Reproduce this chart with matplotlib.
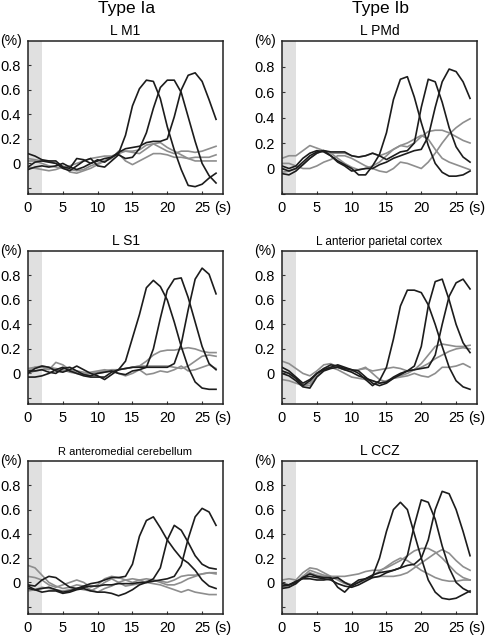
import numpy as np
import matplotlib.pyplot as plt
from matplotlib.patches import Rectangle

plt.rcParams['font.family'] = ['Liberation Sans', 'DejaVu Sans']

# time axis (s)
t = np.arange(28)

# L M1
m1_black = [
    [0.08, 0.06, 0.03, 0.02, 0.02, -0.03, -0.04, 0.04, 0.03, 0.0, 0.02, 0.04, 0.05, 0.08,
     0.23, 0.47, 0.61, 0.68, 0.67, 0.53, 0.30, 0.11, -0.05, -0.18, -0.19, -0.17, -0.12, -0.08],
    [-0.03, 0.01, 0.02, 0.01, 0.0, -0.04, -0.06, -0.02, 0.02, 0.04, -0.02, -0.03, 0.02, 0.07,
     0.04, 0.05, 0.12, 0.25, 0.45, 0.62, 0.68, 0.68, 0.58, 0.38, 0.18, 0.0, -0.10, -0.16],
    [-0.05, -0.03, -0.02, -0.03, -0.02, 0.0, -0.03, -0.05, -0.03, 0.0, 0.03, 0.01, 0.05, 0.09,
     0.12, 0.13, 0.14, 0.17, 0.18, 0.18, 0.20, 0.38, 0.60, 0.72, 0.74, 0.67, 0.52, 0.36],
]
m1_grey = [
    [0.02, 0.02, 0.0, -0.02, -0.03, -0.04, -0.05, -0.06, -0.05, -0.02, 0.0, 0.02, 0.05, 0.08,
     0.10, 0.10, 0.11, 0.15, 0.16, 0.13, 0.10, 0.08, 0.10, 0.10, 0.09, 0.10, 0.12, 0.14],
    [-0.03, -0.04, -0.05, -0.06, -0.05, -0.03, -0.02, 0.0, 0.02, 0.04, 0.05, 0.06, 0.06, 0.08,
     0.02, -0.01, 0.02, 0.05, 0.08, 0.08, 0.07, 0.05, 0.05, 0.04, 0.05, 0.05, 0.05, 0.07],
    [0.04, 0.03, 0.02, 0.02, 0.0, -0.02, -0.07, -0.08, -0.06, -0.04, -0.01, 0.02, 0.04, 0.10,
     0.10, 0.09, 0.08, 0.12, 0.16, 0.17, 0.13, 0.10, 0.07, 0.04, 0.02, 0.02, 0.02, 0.02],
]

# L PMd
pmd_black = [
    [0.02, 0.0, 0.02, 0.08, 0.12, 0.14, 0.13, 0.10, 0.06, 0.03, 0.0, -0.05, -0.05, 0.02,
     0.11, 0.28, 0.54, 0.70, 0.72, 0.56, 0.36, 0.18, 0.04, -0.03, -0.06, -0.06, -0.05, -0.02],
    [0.0, -0.02, 0.0, 0.05, 0.10, 0.13, 0.14, 0.13, 0.13, 0.13, 0.10, 0.09, 0.10, 0.12,
     0.10, 0.07, 0.10, 0.13, 0.14, 0.20, 0.48, 0.70, 0.68, 0.52, 0.32, 0.17, 0.09, 0.05],
    [-0.04, -0.05, -0.02, 0.03, 0.08, 0.12, 0.14, 0.10, 0.05, 0.02, -0.02, -0.01, 0.0, 0.0,
     0.03, 0.05, 0.08, 0.10, 0.12, 0.14, 0.15, 0.25, 0.48, 0.68, 0.78, 0.76, 0.68, 0.55],
]
pmd_grey = [
    [0.08, 0.10, 0.10, 0.14, 0.18, 0.16, 0.14, 0.12, 0.12, 0.12, 0.10, 0.09, 0.10, 0.12,
     0.10, 0.12, 0.15, 0.18, 0.17, 0.20, 0.25, 0.29, 0.30, 0.30, 0.28, 0.25, 0.22, 0.20],
    [-0.03, -0.02, 0.0, 0.03, 0.08, 0.12, 0.14, 0.12, 0.08, 0.04, 0.01, -0.01, 0.0, 0.02,
     0.05, 0.10, 0.15, 0.18, 0.20, 0.23, 0.26, 0.23, 0.15, 0.08, 0.05, 0.03, 0.01, -0.01],
    [0.04, 0.04, 0.02, 0.0, 0.0, 0.02, 0.05, 0.07, 0.10, 0.10, 0.08, 0.05, 0.02, 0.0,
     -0.02, -0.03, 0.0, 0.05, 0.04, 0.02, 0.0, 0.05, 0.12, 0.20, 0.27, 0.32, 0.36, 0.39],
]

# L S1
s1_black = [
    [0.0, 0.04, 0.06, 0.05, 0.02, 0.01, 0.03, 0.06, 0.03, 0.0, -0.02, -0.05, -0.01, 0.03,
     0.10, 0.29, 0.48, 0.70, 0.76, 0.71, 0.60, 0.42, 0.22, 0.05, -0.07, -0.12, -0.13, -0.13],
    [0.02, 0.02, 0.03, 0.01, 0.0, 0.04, 0.05, 0.02, -0.01, -0.02, 0.0, 0.01, 0.02, 0.0,
     -0.01, 0.02, 0.03, 0.05, 0.20, 0.45, 0.68, 0.77, 0.78, 0.62, 0.42, 0.22, 0.08, 0.03],
    [-0.03, -0.03, -0.02, 0.0, 0.03, 0.05, 0.02, 0.0, -0.02, -0.03, -0.03, -0.03, 0.01, 0.03,
     0.04, 0.05, 0.05, 0.05, 0.05, 0.05, 0.05, 0.08, 0.24, 0.52, 0.77, 0.86, 0.81, 0.65],
]
s1_grey = [
    [0.02, 0.05, 0.05, 0.03, 0.09, 0.07, 0.03, 0.0, -0.01, 0.0, 0.01, 0.02, 0.03, 0.03,
     0.04, 0.05, 0.06, 0.10, 0.15, 0.18, 0.19, 0.19, 0.20, 0.21, 0.20, 0.18, 0.17, 0.17],
    [0.0, 0.02, 0.03, 0.04, 0.03, 0.02, 0.02, 0.02, 0.01, 0.0, 0.0, 0.01, 0.02, 0.03,
     0.04, 0.05, 0.06, 0.06, 0.06, 0.06, 0.06, 0.05, 0.04, 0.06, 0.10, 0.14, 0.15, 0.14],
    [0.04, 0.05, 0.06, 0.05, 0.04, 0.03, 0.01, 0.0, 0.0, 0.01, 0.02, 0.03, 0.02, 0.0,
     -0.02, 0.0, 0.03, -0.01, 0.0, 0.02, 0.01, 0.03, 0.06, 0.02, 0.03, 0.05, 0.07, 0.04],
]

# L anterior parietal cortex
apc_black = [
    [0.05, 0.02, -0.03, -0.08, -0.05, 0.0, 0.04, 0.07, 0.06, 0.04, 0.03, 0.0, -0.05, -0.10,
     -0.06, 0.05, 0.28, 0.55, 0.68, 0.68, 0.66, 0.56, 0.40, 0.22, 0.05, -0.06, -0.11, -0.13],
    [0.02, 0.0, -0.04, -0.10, -0.06, 0.0, 0.03, 0.05, 0.07, 0.05, 0.03, 0.02, -0.03, -0.08,
     -0.10, -0.08, -0.04, -0.01, 0.02, 0.06, 0.22, 0.55, 0.75, 0.77, 0.60, 0.40, 0.25, 0.17],
    [0.0, -0.02, -0.06, -0.11, -0.12, -0.03, 0.02, 0.04, 0.05, 0.03, 0.01, -0.02, -0.04, -0.06,
     -0.08, -0.07, -0.03, 0.0, 0.02, 0.03, 0.04, 0.05, 0.15, 0.40, 0.63, 0.74, 0.77, 0.69],
]
apc_grey = [
    [0.10, 0.08, 0.04, 0.0, -0.02, 0.02, 0.07, 0.08, 0.05, 0.03, 0.02, 0.03, 0.05, 0.0,
     -0.05, -0.07, -0.04, -0.02, 0.0, 0.03, 0.08, 0.15, 0.22, 0.24, 0.23, 0.22, 0.22, 0.23],
    [-0.05, -0.06, -0.08, -0.10, -0.10, -0.02, 0.03, 0.05, 0.05, 0.03, 0.02, 0.03, 0.04, 0.02,
     0.03, 0.04, 0.05, 0.04, 0.02, 0.03, 0.05, 0.08, 0.12, 0.15, 0.18, 0.20, 0.21, 0.20],
    [0.02, 0.0, -0.05, -0.10, -0.08, 0.0, 0.04, 0.05, 0.03, 0.0, -0.03, -0.04, -0.05, -0.06,
     -0.08, -0.06, -0.04, -0.03, -0.02, 0.0, -0.02, -0.03, 0.0, 0.05, 0.05, 0.06, 0.08, 0.05],
]

# R anteromedial cerebellum
cb_black = [
    [-0.02, -0.03, 0.02, 0.05, 0.04, 0.0, -0.04, -0.05, -0.03, -0.01, 0.0, 0.02, 0.04, 0.04,
     0.05, 0.15, 0.38, 0.51, 0.54, 0.45, 0.35, 0.27, 0.20, 0.16, 0.10, 0.02, -0.03, -0.05],
    [-0.05, -0.06, -0.05, -0.04, -0.06, -0.08, -0.07, -0.05, -0.04, -0.03, -0.03, -0.02, -0.02, -0.01,
     -0.01, -0.01, 0.0, 0.0, 0.03, 0.12, 0.35, 0.47, 0.43, 0.33, 0.22, 0.15, 0.12, 0.11],
    [-0.03, -0.06, -0.08, -0.07, -0.07, -0.09, -0.08, -0.06, -0.05, -0.07, -0.08, -0.08, -0.09, -0.11,
     -0.09, -0.06, -0.02, 0.0, 0.01, 0.02, 0.03, 0.05, 0.14, 0.36, 0.54, 0.61, 0.58, 0.47],
]
cb_grey = [
    [0.14, 0.12, 0.06, 0.0, -0.03, -0.05, -0.04, -0.02, -0.03, -0.06, -0.08, -0.05, -0.03, 0.0,
     0.02, 0.03, 0.02, 0.0, -0.01, -0.02, -0.04, -0.06, -0.08, -0.06, -0.08, -0.09, -0.10, -0.10],
    [0.05, 0.04, 0.02, -0.02, -0.04, -0.02, 0.0, 0.02, 0.0, -0.04, -0.02, 0.03, 0.05, 0.04,
     0.02, 0.0, 0.02, 0.03, 0.02, 0.01, 0.0, 0.02, 0.05, 0.06, 0.06, 0.07, 0.08, 0.08],
    [-0.07, -0.06, -0.04, -0.05, -0.06, -0.07, -0.06, -0.05, -0.06, -0.07, -0.04, 0.0, 0.03, 0.0,
     -0.03, -0.02, -0.01, 0.01, 0.02, 0.0, -0.02, -0.02, 0.0, 0.03, 0.05, 0.07, 0.08, 0.07],
]

# L CCZ
ccz_black = [
    [-0.03, -0.02, 0.0, 0.04, 0.07, 0.05, 0.04, 0.04, -0.04, -0.08, -0.02, 0.02, 0.03, 0.05,
     0.20, 0.42, 0.60, 0.66, 0.60, 0.40, 0.20, 0.02, -0.08, -0.13, -0.14, -0.13, -0.10, -0.07],
    [-0.01, -0.02, 0.01, 0.03, 0.03, 0.02, 0.02, 0.03, 0.04, 0.0, -0.03, 0.0, 0.03, 0.06,
     0.08, 0.09, 0.10, 0.12, 0.22, 0.47, 0.68, 0.66, 0.52, 0.30, 0.12, 0.0, -0.05, -0.08],
    [-0.05, -0.04, -0.01, 0.04, 0.05, 0.04, 0.03, 0.02, -0.01, -0.03, -0.04, -0.02, 0.01, 0.04,
     0.05, 0.08, 0.10, 0.12, 0.14, 0.15, 0.20, 0.35, 0.60, 0.75, 0.73, 0.60, 0.42, 0.22],
]
ccz_grey = [
    [0.02, 0.03, 0.02, 0.08, 0.12, 0.11, 0.08, 0.05, 0.02, -0.01, -0.02, 0.0, 0.03, 0.06,
     0.09, 0.13, 0.17, 0.20, 0.18, 0.14, 0.10, 0.07, 0.04, 0.02, 0.01, 0.01, 0.02, 0.02],
    [-0.03, -0.02, 0.0, 0.05, 0.10, 0.08, 0.06, 0.05, 0.05, 0.05, 0.06, 0.07, 0.09, 0.10,
     0.10, 0.12, 0.15, 0.18, 0.22, 0.26, 0.28, 0.28, 0.25, 0.20, 0.14, 0.08, 0.04, 0.02],
    [-0.04, -0.03, -0.01, 0.05, 0.08, 0.06, 0.05, 0.04, 0.03, 0.0, -0.02, 0.0, 0.02, 0.04,
     0.05, 0.05, 0.05, 0.06, 0.08, 0.12, 0.16, 0.20, 0.24, 0.27, 0.24, 0.18, 0.13, 0.10],
]

titles = ['L M1', 'L PMd', 'L S1', 'L anterior parietal cortex',
          'R anteromedial cerebellum', 'L CCZ']
title_sizes = [10, 10, 10, 8.5, 8, 10]
blacks = [m1_black, pmd_black, s1_black, apc_black, cb_black, ccz_black]
greys = [m1_grey, pmd_grey, s1_grey, apc_grey, cb_grey, ccz_grey]
ymins = [-0.25, -0.09, -0.25, -0.25, -0.26, -0.26]

W, H = 487, 635
fig = plt.figure(figsize=(W / 100, H / 100), dpi=100)

lefts = [28, 282]
tops = [41, 251, 461]
aw, ah = 195, 153

for i in range(6):
    r, c = divmod(i, 2)
    ax = fig.add_axes([lefts[c] / W, 1 - (tops[r] + ah) / H, aw / W, ah / H])
    ax.add_patch(Rectangle((0, -1), 2, 3, color='#e0e0e0', lw=0, zorder=0))
    for y in greys[i]:
        ax.plot(t, y, color='#8e8e8e', lw=1.2, zorder=2)
    for y in blacks[i]:
        ax.plot(t, y, color='#1c1c1c', lw=1.2, zorder=3)
    ax.set_xlim(0, 28)
    ax.set_ylim(ymins[i], 1.0)
    ax.set_xticks([0, 5, 10, 15, 20, 25])
    ax.set_yticks([-0.2, 0, 0.2, 0.4, 0.6, 0.8])
    ax.set_yticklabels(['', '0', '0.2', '0.4', '0.6', '0.8'])
    ax.tick_params(direction='in', length=2, width=0.8, labelsize=10.5, pad=5,
                   color='#333333')
    for s in ax.spines.values():
        s.set_linewidth(1.1)
        s.set_color('#222222')
    ax.set_title(titles[i], fontsize=title_sizes[i], pad=4)
    ax.text(-0.03, 1.0, '(%)', transform=ax.transAxes, ha='right', va='center',
            fontsize=10)
    ax.annotate('(s)', xy=(26.7, 0), xycoords=('data', 'axes fraction'),
                xytext=(0, -5), textcoords='offset points', ha='left', va='top',
                fontsize=10.5, annotation_clip=False)

fig.text(127 / W, 1 - 1 / H, 'Type Ia', ha='center', va='top', fontsize=12.5)
fig.text(380 / W, 1 - 1 / H, 'Type Ib', ha='center', va='top', fontsize=12.5)

fig.savefig('out.png', dpi=100, facecolor='white')
